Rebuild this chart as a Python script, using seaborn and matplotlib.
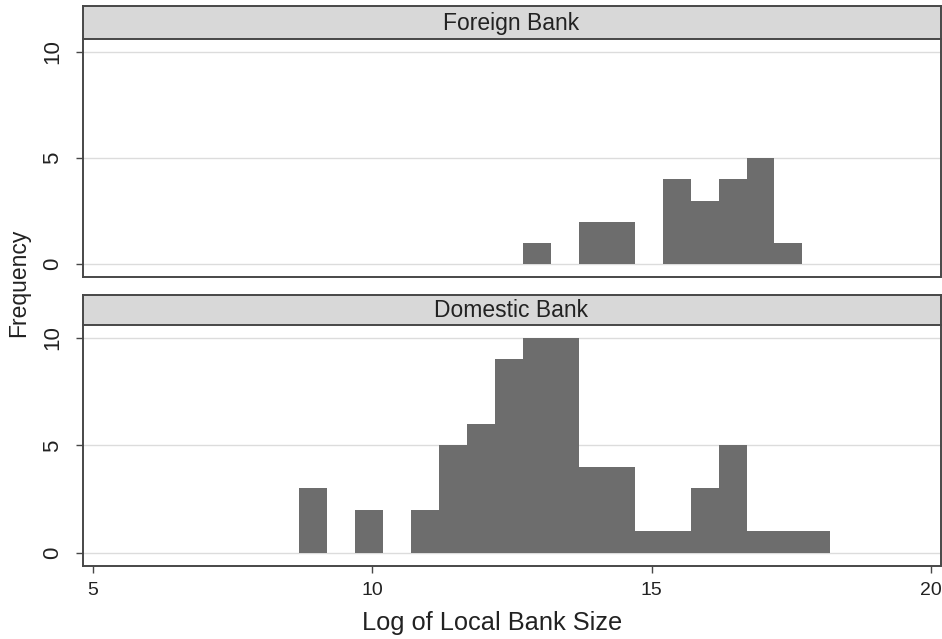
import pandas as pd
import seaborn as sns
import matplotlib.pyplot as plt

# Histogram of log local bank size, split by ownership (shared bins of width 0.5)
bin_start = 8.70
bin_width = 0.5
domestic_counts = [3, 0, 2, 0, 2, 5, 6, 9, 10, 10, 4, 4, 1, 1, 3, 5, 1, 1, 1]
foreign_counts = [0, 0, 0, 0, 0, 0, 0, 0, 1, 0, 2, 2, 0, 4, 3, 4, 5, 1, 0]
panel_titles = ["Foreign Bank", "Domestic Bank"]
x_ticks = [5, 10, 15, 20]
y_ticks = [0, 5, 10]

edges = [bin_start + bin_width * k for k in range(len(domestic_counts) + 1)]
centers = [(a + b) / 2 for a, b in zip(edges[:-1], edges[1:])]

df = pd.concat([
    pd.DataFrame({"size": centers, "n": foreign_counts, "bank": panel_titles[0]}),
    pd.DataFrame({"size": centers, "n": domestic_counts, "bank": panel_titles[1]}),
], ignore_index=True)

sns.set_theme(style="white")
plt.rcParams["font.family"] = ["Liberation Sans", "DejaVu Sans"]

W, H = 942, 639
fig = plt.figure(figsize=(W / 100, H / 100), dpi=100)
fig.patch.set_facecolor("white")

bar_color = "#6d6d6d"
frame_color = "#474747"
strip_fill = "#d8d8d8"
grid_color = "#dcdcdc"
text_color = "#222222"

left, right = 82.5 / W, 940.5 / W
# (axes bottom px, axes top px, strip top px)
panels = [(277, 39, 6), (565.7, 325, 295)]

for i, (title, (pb, pt, st)) in enumerate(zip(panel_titles, panels)):
    ax = fig.add_axes([left, 1 - pb / H, right - left, (pb - pt) / H])
    sub = df[df["bank"] == title]
    sns.histplot(data=sub, x="size", weights="n", bins=edges, ax=ax,
                 color=bar_color, alpha=1, linewidth=0)
    ax.set_xlim(4.82, 20.17)
    ax.set_ylim(-0.6, 10.6)
    ax.set_yticks(y_ticks)
    ax.set_yticklabels([str(t) for t in y_ticks], rotation=90, va="center")
    for t in y_ticks:
        ax.axhline(t, color=grid_color, lw=1.0, zorder=0)
    ax.set_xlabel("")
    ax.set_ylabel("")
    for s in ax.spines.values():
        s.set_color(frame_color)
        s.set_linewidth(1.4)
    ax.spines["top"].set_visible(False)
    ax.tick_params(axis="y", left=True, length=5, width=1, color=frame_color,
                   labelsize=16, labelcolor=text_color, pad=9)
    if i == 0:
        ax.tick_params(axis="x", bottom=False, labelbottom=False)
    else:
        ax.set_xticks(x_ticks)
        ax.tick_params(axis="x", bottom=True, length=5, width=1, color=frame_color,
                       labelsize=14, labelcolor=text_color, pad=7)
    # strip header
    sax = fig.add_axes([left, 1 - pt / H, right - left, (pt - st) / H])
    sax.set_xticks([])
    sax.set_yticks([])
    sax.set_facecolor(strip_fill)
    for s in sax.spines.values():
        s.set_color(frame_color)
        s.set_linewidth(1.4)
    sax.text(0.5, 0.47, title, ha="center", va="center", fontsize=16.5,
             color=text_color, transform=sax.transAxes)

fig.text(492 / W, 1 - 623 / H, "Log of Local Bank Size",
         ha="center", va="center", fontsize=18.3, color=text_color)
fig.text(19 / W, 1 - 283 / H, "Frequency", ha="center", va="center",
         rotation=90, fontsize=16.5, color=text_color)

fig.savefig("out.png", dpi=100, facecolor="white")
